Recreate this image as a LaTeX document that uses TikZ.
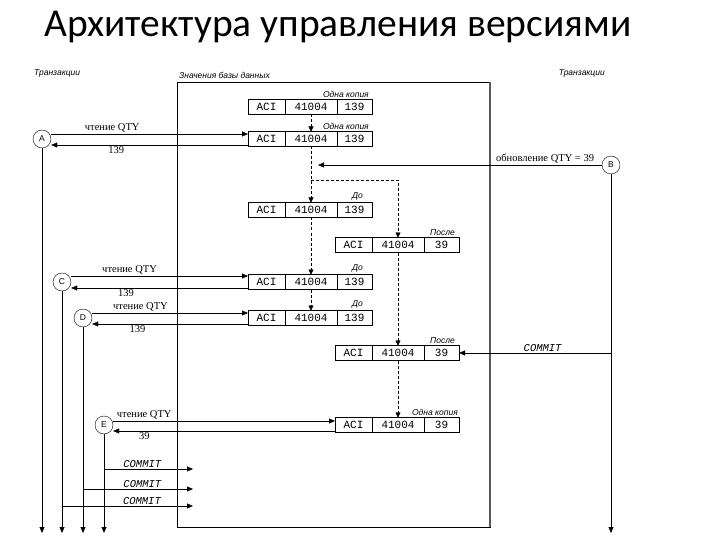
\documentclass[tikz,border=0pt]{standalone}
\usepackage{fontspec}
\setmainfont{Liberation Serif}
\setsansfont{Liberation Sans}
\setmonofont{Liberation Mono}
\newfontfamily\titlefont{Carlito}
\usetikzlibrary{arrows.meta, positioning}
% one stored version of the record: ACI | 41004 | qty
\newcommand{\verrow}[3]{%
  \node[cell, anchor=west, minimum width=37pt] (#1a) at (#2) {ACI};
  \node[cell, right=0pt of #1a, minimum width=52pt] (#1b) {41004};
  \node[cell, right=0pt of #1b, minimum width=35pt] (#1c) {#3};
}

\begin{document}
\begin{tikzpicture}[
    x=1pt, y=-1pt,
    cell/.style={draw, outer sep=0pt, inner sep=0pt, minimum height=15pt, font=\ttfamily\fontsize{11}{11}\selectfont},
    txn/.style={draw, circle, inner sep=0pt, minimum size=18pt, font=\sffamily\fontsize{8.5}{9}\selectfont},
    tag/.style={font=\sffamily\itshape\fontsize{8.5}{9}\selectfont, inner sep=1pt},
    lbl/.style={font=\fontsize{10.5}{11}\selectfont, inner sep=1.5pt},
    cmt/.style={font=\ttfamily\itshape\fontsize{10.5}{11}\selectfont, inner sep=1.5pt},
    msg/.style={-{Triangle[length=6pt, width=5pt]}, thin},
    ver/.style={-{Triangle[length=5pt, width=5pt]}, densely dashed, thin}
  ]
  \useasboundingbox (0,0) rectangle (720,540);
  \node[anchor=base west, font=\titlefont\fontsize{39.5}{44}\selectfont, inner sep=0pt] (title) at (44,37) {Архитектура управления версиями};

  % database values
  \node[draw, anchor=north west, minimum width=313pt, minimum height=445pt] (db) at (177,82) {};
  \draw[gray!70!black, line width=2pt] (db.north east) -- (db.south east);
  \node[tag, above right=2pt and 1pt of db.north west] (dbname) {Значения базы данных};
  \node[tag, anchor=south west] (tl) at (33,78) {Транзакции};
  \node[tag, anchor=south east] (tr) at (606,78) {Транзакции};

  \verrow{r1}{248,107}{139}
  \verrow{r2}{248,139}{139}
  \verrow{r3}{248,210}{139}
  \verrow{r4}{335,245}{39}
  \verrow{r5}{248,282}{139}
  \verrow{r6}{248,318}{139}
  \verrow{r7}{335,353}{39}
  \verrow{r8}{335,425}{39}

  \node[tag, above left=1pt and 2pt of r1c.north east] {Одна копия};
  \node[tag, above left=1pt and 2pt of r2c.north east] {Одна копия};
  \node[tag, above left=1pt and 8pt of r3c.north east] {До};
  \node[tag, above left=1pt and 3pt of r4c.north east] {После};
  \node[tag, above left=1pt and 8pt of r5c.north east] {До};
  \node[tag, above left=1pt and 8pt of r6c.north east] {До};
  \node[tag, above left=1pt and 3pt of r7c.north east] {После};
  \node[tag, above left=1pt and 0pt of r8c.north east] {Одна копия};

  % versions
  \coordinate (fork) at (0,180);
  \draw[ver] (r1b.south) -- (r2b.north);
  \draw[ver] (r2b.south) -- (r3b.north);
  \draw[ver] (r2b.south |- fork) -| (r4b.north);
  \draw[ver] (r3b.south) -- (r5b.north);
  \draw[ver] (r5b.south) -- (r6b.north);
  \draw[ver] (r4b.south) -- (r7b.north);
  \draw[ver] (r7b.south) -- (r8b.north);

  % transactions
  \node[txn] (A) at (42,139) {A};
  \node[txn] (B) at (611,165) {B};
  \node[txn] (C) at (62,282) {C};
  \node[txn] (D) at (83,318) {D};
  \node[txn] (E) at (104,425) {E};

  \draw[msg] ([yshift=5pt]A.east) -- ([yshift=5pt]A.east -| r2a.west) node[lbl, pos=0.31, above] {чтение QTY};
  \draw[msg] ([yshift=-6pt]r2a.west) -- ([yshift=-6pt]r2a.west -| A.east) node[lbl, pos=0.67, below] {139};
  \draw[msg] (B.west) -- ([xshift=7pt]r2b.south |- B.west) node[lbl, pos=0.2, above] {обновление QTY = 39};
  \draw[msg] ([yshift=6pt]C.east) -- ([yshift=6pt]C.east -| r5a.west) node[lbl, pos=0.33, above] {чтение QTY};
  \draw[msg] ([yshift=-6pt]r5a.west) -- ([yshift=-6pt]r5a.west -| C.east) node[lbl, pos=0.69, below] {139};
  \draw[msg] ([yshift=5pt]D.east) -- ([yshift=5pt]D.east -| r6a.west) node[lbl, pos=0.31, above] {чтение QTY};
  \draw[msg] ([yshift=-6pt]r6a.west) -- ([yshift=-6pt]r6a.west -| D.east) node[lbl, pos=0.71, below] {139};
  \draw[msg] (B |- r7c.east) -- (r7c.east) node[cmt, pos=0.45, above] {COMMIT};
  \draw[msg] ([yshift=4pt]E.east) -- ([yshift=4pt]E.east -| r8a.west) node[lbl, pos=0.14, above] {чтение QTY};
  \draw[msg] ([yshift=-6pt]r8a.west) -- ([yshift=-6pt]r8a.west -| E.east) node[lbl, pos=0.86, below] {39};

  % commits
  \coordinate (ce) at (193,469);
  \coordinate (cd) at (193,489);
  \coordinate (cc) at (193,506);
  \draw[msg] (E |- ce) -- (ce) node[cmt, pos=0.43, above] {COMMIT};
  \draw[msg] (D |- cd) -- (cd) node[cmt, pos=0.54, above] {COMMIT};
  \draw[msg] (C |- cc) -- (cc) node[cmt, pos=0.61, above] {COMMIT};

  % lifelines
  \coordinate (bot) at (0,533);
  \foreach \t in {A,B,C,D,E}
    \draw[msg] (\t.south) -- (\t |- bot);
\end{tikzpicture}
\end{document}
